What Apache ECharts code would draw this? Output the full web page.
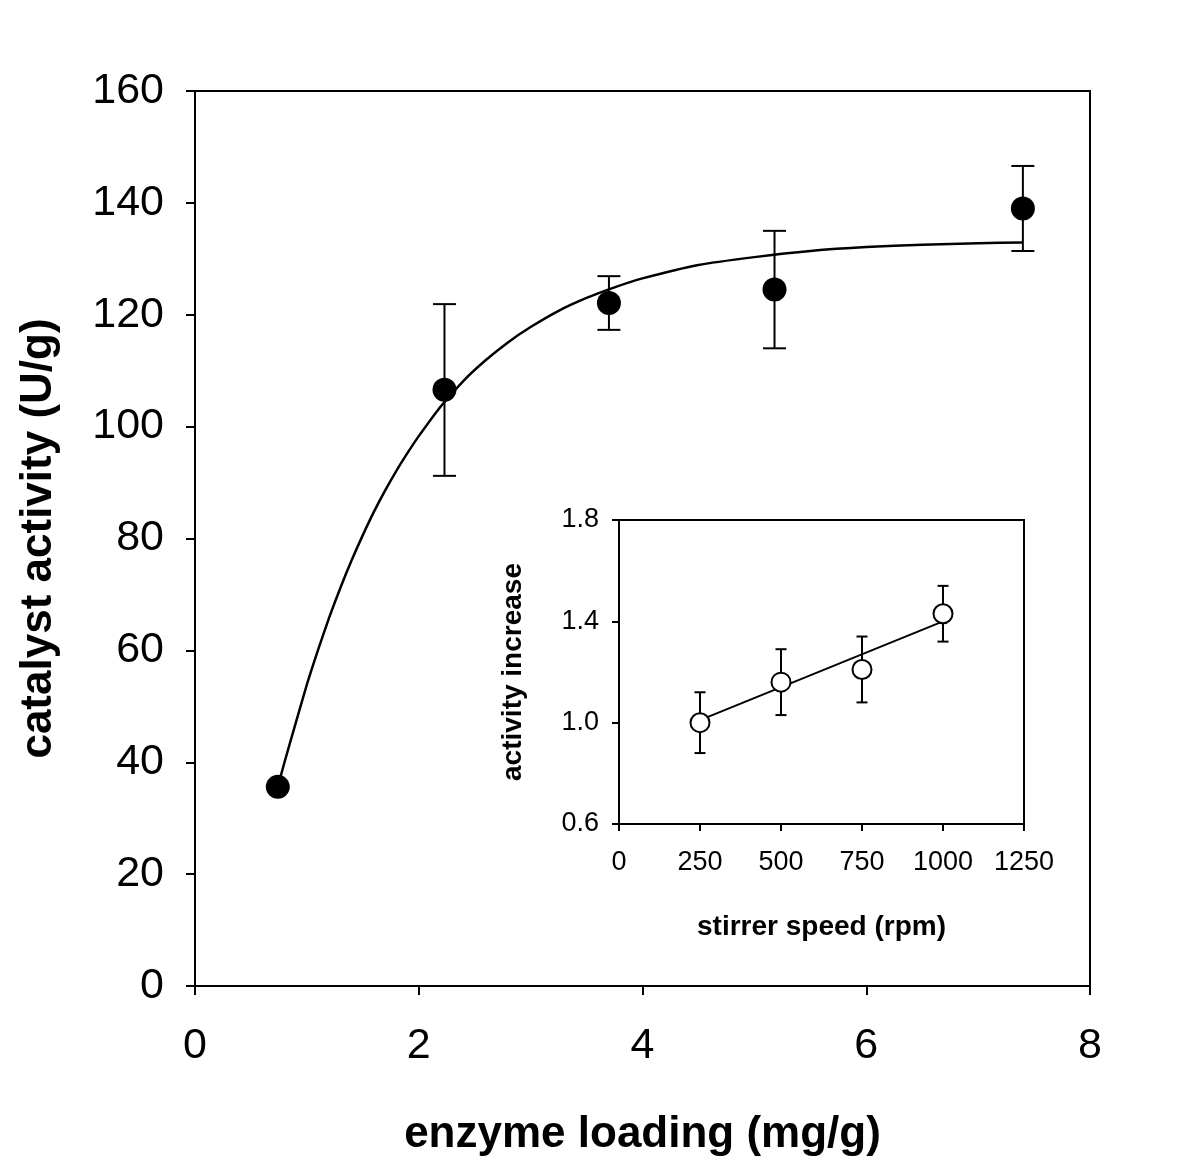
<!DOCTYPE html>
<html>
<head>
<meta charset="utf-8">
<script src="https://cdn.jsdelivr.net/npm/echarts@6/dist/echarts.min.js"></script>
<style>
  html, body { margin: 0; padding: 0; background: #fff; }
  #chart { width: 1200px; height: 1162px; }
</style>
</head>
<body>
<div id="chart"></div>
<script>
// ---------- main plot data ----------
const loadingX    = [0.74, 2.23, 3.70, 5.18, 7.40];
const activityY   = [35.6, 106.6, 122.1, 124.5, 139.0];
const activityLo  = [null, 91.2, 117.3, 114.0, 131.4];
const activityHi  = [null, 121.9, 126.9, 135.0, 146.6];
// fitted curve
const curveX = [0.74, 0.80, 0.90, 1.00, 1.10, 1.20, 1.30, 1.40, 1.50, 1.60, 1.70, 1.80, 1.90, 2.00, 2.20, 2.40, 2.60, 2.80, 3.00, 3.25, 3.50, 3.75, 4.00, 4.50, 5.00, 5.50, 6.00, 6.50, 7.00, 7.40];
const curveY = [35.6, 40.0, 47.0, 53.9, 60.1, 65.9, 71.2, 76.1, 80.6, 84.8, 88.6, 92.1, 95.3, 98.3, 103.7, 108.2, 111.9, 115.1, 117.8, 120.7, 123.0, 124.9, 126.5, 128.9, 130.3, 131.4, 132.1, 132.5, 132.8, 132.9];
const mainXTicks = [0, 2, 4, 6, 8];
const mainYTicks = [0, 20, 40, 60, 80, 100, 120, 140, 160];

// ---------- inset data ----------
const speedX     = [250, 500, 750, 1000];
const increaseY  = [1.00, 1.16, 1.21, 1.43];
const increaseLo = [0.88, 1.03, 1.08, 1.32];
const increaseHi = [1.12, 1.29, 1.34, 1.54];
const fitLineX = [250, 1000];
const fitLineY = [1.01, 1.40];
const insetXTicks = [0, 250, 500, 750, 1000, 1250];
const insetYTicks = [0.6, 1.0, 1.4, 1.8];

const FONT = "'Liberation Sans', Arial, sans-serif";

function errBars(xs, lo, hi, capW, lw) {
  return {
    type: 'custom',
    renderItem: function (params, api) {
      const x = api.value(0), l = api.value(1), h = api.value(2);
      const p1 = api.coord([x, l]);
      const p2 = api.coord([x, h]);
      const st = { stroke: '#000', lineWidth: lw };
      return {
        type: 'group',
        children: [
          { type: 'line', shape: { x1: p1[0], y1: p1[1], x2: p2[0], y2: p2[1] }, style: st },
          { type: 'line', shape: { x1: p1[0] - capW / 2, y1: p1[1], x2: p1[0] + capW / 2, y2: p1[1] }, style: st },
          { type: 'line', shape: { x1: p2[0] - capW / 2, y1: p2[1], x2: p2[0] + capW / 2, y2: p2[1] }, style: st }
        ]
      };
    },
    data: xs.map((x, i) => [x, lo[i], hi[i]]).filter(d => d[1] != null),
    z: 3,
    silent: true
  };
}

const chart = echarts.init(document.getElementById('chart'), null, { renderer: 'canvas' });

const option = {
  backgroundColor: '#fff',
  animation: false,
  grid: [
    { left: 195, top: 91, width: 895, height: 896, show: true, borderColor: '#000', borderWidth: 2, backgroundColor: 'transparent' },
    { left: 619, top: 520, width: 405, height: 304, show: true, borderColor: '#000', borderWidth: 2, backgroundColor: '#fff', z: 10 }
  ],
  xAxis: [
    {
      gridIndex: 0, type: 'value', min: 0, max: 8, interval: 2,
      name: 'enzyme loading (mg/g)', nameLocation: 'middle', nameGap: 127,
      nameTextStyle: { fontFamily: FONT, fontSize: 44, fontWeight: 'bold', color: '#000' },
      axisLine: { lineStyle: { color: '#000', width: 2 } },
      axisTick: { show: true, inside: false, length: 9, lineStyle: { color: '#000', width: 2 } },
      axisLabel: { fontFamily: FONT, fontSize: 43, color: '#000', margin: 39,
        formatter: v => mainXTicks.includes(v) ? String(v) : '' },
      splitLine: { show: false }
    },
    {
      gridIndex: 1, type: 'value', min: 0, max: 1250, interval: 250,
      name: 'stirrer speed (rpm)', nameLocation: 'middle', nameGap: 89,
      nameTextStyle: { fontFamily: FONT, fontSize: 28, fontWeight: 'bold', color: '#000' },
      axisLine: { lineStyle: { color: '#000', width: 2 } },
      axisTick: { show: true, inside: false, length: 7, lineStyle: { color: '#000', width: 2 } },
      axisLabel: { fontFamily: FONT, fontSize: 27, color: '#000', margin: 25,
        formatter: v => insetXTicks.includes(v) ? String(v) : '' },
      splitLine: { show: false }
    }
  ],
  yAxis: [
    {
      gridIndex: 0, type: 'value', min: 0, max: 160, interval: 20,
      name: 'catalyst activity (U/g)', nameLocation: 'middle', nameGap: 134,
      nameTextStyle: { fontFamily: FONT, fontSize: 44, fontWeight: 'bold', color: '#000' },
      axisLine: { lineStyle: { color: '#000', width: 2 } },
      axisTick: { show: true, inside: false, length: 9, lineStyle: { color: '#000', width: 2 } },
      axisLabel: { fontFamily: FONT, fontSize: 43, color: '#000', margin: 31,
        formatter: v => mainYTicks.includes(v) ? String(v) : '' },
      splitLine: { show: false }
    },
    {
      gridIndex: 1, type: 'value', min: 0.6, max: 1.8, interval: 0.4,
      name: 'activity increase', nameLocation: 'middle', nameGap: 92,
      nameTextStyle: { fontFamily: FONT, fontSize: 28, fontWeight: 'bold', color: '#000' },
      axisLine: { lineStyle: { color: '#000', width: 2 } },
      axisTick: { show: true, inside: false, length: 7, lineStyle: { color: '#000', width: 2 } },
      axisLabel: { fontFamily: FONT, fontSize: 27, color: '#000', margin: 20,
        formatter: v => v.toFixed(1) },
      splitLine: { show: false }
    }
  ],
  series: [
    {
      type: 'line', xAxisIndex: 0, yAxisIndex: 0,
      data: curveX.map((x, i) => [x, curveY[i]]),
      smooth: 0.2, showSymbol: false, symbol: 'none',
      lineStyle: { color: '#000', width: 2.5 }, z: 2, silent: true
    },
    Object.assign(errBars(loadingX, activityLo, activityHi, 23, 2), { xAxisIndex: 0, yAxisIndex: 0 }),
    {
      type: 'scatter', xAxisIndex: 0, yAxisIndex: 0,
      data: loadingX.map((x, i) => [x, activityY[i]]),
      symbol: 'circle', symbolSize: 24,
      itemStyle: { color: '#000', opacity: 1 }, z: 4, silent: true
    },
    {
      type: 'line', xAxisIndex: 1, yAxisIndex: 1,
      data: fitLineX.map((x, i) => [x, fitLineY[i]]),
      showSymbol: false, symbol: 'none',
      lineStyle: { color: '#000', width: 2 }, z: 12, silent: true
    },
    Object.assign(errBars(speedX, increaseLo, increaseHi, 11, 2), { xAxisIndex: 1, yAxisIndex: 1, z: 12 }),
    {
      type: 'scatter', xAxisIndex: 1, yAxisIndex: 1,
      data: speedX.map((x, i) => [x, increaseY[i]]),
      symbol: 'circle', symbolSize: 19,
      itemStyle: { color: '#fff', borderColor: '#000', borderWidth: 2, opacity: 1 }, z: 13, silent: true
    }
  ]
};

chart.setOption(option);
</script>
</body>
</html>
